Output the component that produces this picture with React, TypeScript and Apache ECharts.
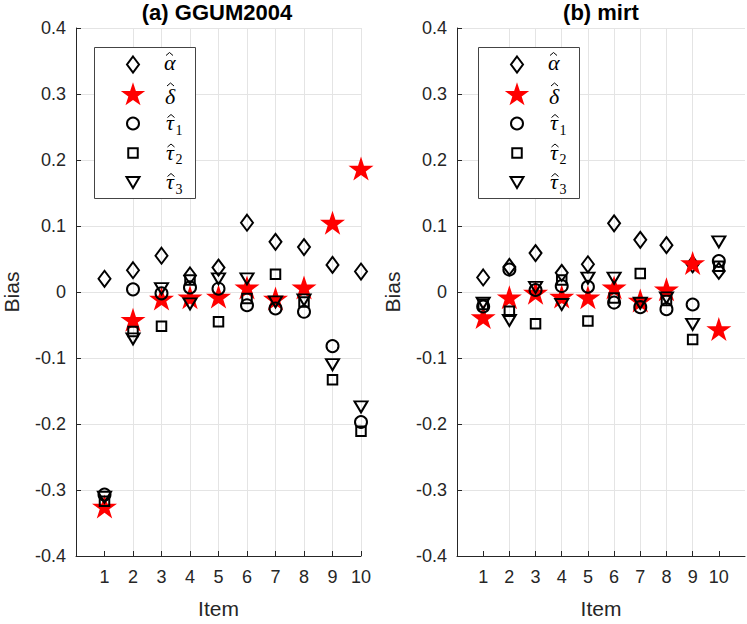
import React, { useEffect, useRef } from 'react';
import * as echarts from 'echarts';

// ---------------- data ----------------
const items = [1, 2, 3, 4, 5, 6, 7, 8, 9, 10];
const xTickValues = [1, 2, 3, 4, 5, 6, 7, 8, 9, 10];
const yTickValues = [-0.4, -0.3, -0.2, -0.1, 0, 0.1, 0.2, 0.3, 0.4];

const panelTitles = ['(a) GGUM2004', '(b) mirt'];
const seriesNames = ['alpha', 'delta', 'tau1', 'tau2', 'tau3'];

// (a) GGUM2004
const ggumAlpha = [0.020, 0.033, 0.055, 0.025, 0.037, 0.105, 0.076, 0.068, 0.041, 0.031];
const ggumDelta = [-0.325, -0.042, -0.010, -0.008, -0.007, 0.007, -0.010, 0.007, 0.105, 0.187];
const ggumTau1 = [-0.307, 0.004, -0.002, 0.007, 0.005, -0.020, -0.025, -0.030, -0.082, -0.197];
const ggumTau2 = [-0.317, -0.060, -0.052, 0.018, -0.045, -0.010, 0.027, -0.015, -0.133, -0.211];
const ggumTau3 = [-0.311, -0.071, 0.005, -0.018, 0.020, 0.020, -0.015, -0.012, -0.110, -0.174];

// (b) mirt
const mirtAlpha = [0.022, 0.038, 0.059, 0.029, 0.042, 0.104, 0.079, 0.071, 0.042, 0.032];
const mirtDelta = [-0.038, -0.008, -0.001, -0.007, -0.008, 0.007, -0.013, 0.004, 0.044, -0.056];
const mirtTau1 = [-0.022, 0.034, 0.003, 0.009, 0.008, -0.016, -0.023, -0.026, -0.019, 0.047];
const mirtTau2 = [-0.019, -0.029, -0.048, 0.018, -0.044, -0.009, 0.028, -0.013, -0.072, 0.039];
const mirtTau3 = [-0.017, -0.043, 0.007, -0.019, 0.021, 0.021, -0.017, -0.009, -0.049, 0.076];

// ---------------- style ----------------
const FONT = 'Liberation Sans, Arial, Helvetica, sans-serif';
const MATH_FONT = 'Liberation Serif, Times New Roman, serif';
const AXIS_COLOR = '#262626';
const GRID_COLOR = '#e4e4e4';
const STAR_RED = '#ff0000';
const MARKER_LW = 2;

const GRID_TOP = 28;
const GRID_H = 534;
const GRID_W = 288;
const GRID_LEFTS = [73, 457];
const X_MAX = [10, 11];

function starPoints(cx: number, cy: number, R: number): number[][] {
  const pts: number[][] = [];
  for (let i = 0; i < 10; i++) {
    const r = i % 2 === 0 ? R : R * 0.382;
    const a = -Math.PI / 2 + (i * Math.PI) / 5;
    pts.push([cx + r * Math.cos(a), cy + r * Math.sin(a)]);
  }
  return pts;
}

const starSymbol =
  'path://M' +
  starPoints(0, 0, 100)
    .map((p) => p[0].toFixed(2) + ' ' + p[1].toFixed(2))
    .join(' L') +
  ' Z';

const markerDefs: Record<string, any> = {
  alpha: { symbol: 'diamond', symbolSize: [12, 16], hollow: true },
  delta: { symbol: starSymbol, symbolSize: [25, 24], hollow: false },
  tau1: { symbol: 'circle', symbolSize: 12, hollow: true },
  tau2: { symbol: 'rect', symbolSize: 9.5, hollow: true },
  tau3: { symbol: 'triangle', symbolSize: [13, 11], hollow: true, rotate: 180 },
};

function makeSeries(name: string, values: number[], idx: number) {
  const def = markerDefs[name];
  return {
    type: 'scatter',
    name: name + idx,
    xAxisIndex: idx,
    yAxisIndex: idx,
    symbol: def.symbol,
    symbolSize: def.symbolSize,
    symbolRotate: def.rotate || 0,
    symbolKeepAspect: false,
    silent: true,
    itemStyle: def.hollow
      ? { color: 'rgba(0,0,0,0)', borderColor: '#000', borderWidth: MARKER_LW, opacity: 1 }
      : { color: STAR_RED, borderColor: STAR_RED, borderWidth: 0, opacity: 1 },
    emphasis: { disabled: true },
    data: items.map((x, i) => [x, values[i]]),
  };
}

function legendGraphics(x0: number): any[] {
  const y0 = 47;
  const w = 101;
  const h = 151;
  const els: any[] = [];
  els.push({
    type: 'rect',
    shape: { x: x0 + 0.5, y: y0 + 0.5, width: w, height: h },
    style: { fill: '#fff', stroke: '#444', lineWidth: 1 },
    z: 100,
  });
  const mx = x0 + 39;
  const tx = x0 + 70;
  const rows = [64.5, 94, 123.5, 153, 182.5];
  const stroke = { fill: 'none', stroke: '#000', lineWidth: MARKER_LW };
  let my = rows[0];
  els.push({ type: 'polygon', shape: { points: [[mx, my - 8], [mx + 6, my], [mx, my + 8], [mx - 6, my]] }, style: stroke, z: 101 });
  my = rows[1];
  els.push({ type: 'polygon', shape: { points: starPoints(mx, my + 1, 12.8) }, style: { fill: STAR_RED, stroke: 'none' }, z: 101 });
  my = rows[2];
  els.push({ type: 'circle', shape: { cx: mx, cy: my, r: 6 }, style: stroke, z: 101 });
  my = rows[3];
  els.push({ type: 'rect', shape: { x: mx - 4.75, y: my - 4.75, width: 9.5, height: 9.5 }, style: stroke, z: 101 });
  my = rows[4];
  els.push({ type: 'polygon', shape: { points: [[mx - 6.5, my - 5.5], [mx + 6.5, my - 5.5], [mx, my + 5.5]] }, style: stroke, z: 101 });

  const labels = [
    { ch: '\u03B1', sub: '', base: 6, hatTop: -12, dx: 0, hatDx: 5.5 },
    { ch: '\u03B4', sub: '', base: 10, hatTop: -11, dx: 1, hatDx: 5.5 },
    { ch: '\u03C4', sub: '1', base: 7, hatTop: -9, dx: 2, hatDx: 5 },
    { ch: '\u03C4', sub: '2', base: 7, hatTop: -9, dx: 2, hatDx: 5 },
    { ch: '\u03C4', sub: '3', base: 7, hatTop: -9, dx: 2, hatDx: 5 },
  ];
  const fs = 22;
  labels.forEach((l, i) => {
    const ry = rows[i];
    els.push({
      type: 'text',
      z: 101,
      style: {
        text: l.ch,
        x: tx + l.dx,
        y: ry + l.base - 0.35 * fs,
        font: 'italic ' + fs + 'px ' + MATH_FONT,
        fill: '#000',
        textAlign: 'left',
        textVerticalAlign: 'middle',
      },
    });
    const hx = tx + l.dx + l.hatDx;
    const ht = ry + l.hatTop;
    els.push({
      type: 'polyline',
      z: 101,
      shape: { points: [[hx - 3.5, ht + 3], [hx, ht], [hx + 3.5, ht + 3]] },
      style: { stroke: '#000', lineWidth: 1, fill: 'none' },
    });
    if (l.sub) {
      els.push({
        type: 'text',
        z: 101,
        style: {
          text: l.sub,
          x: tx + l.dx + 9.5,
          y: ry + 11.5 - 0.35 * 14,
          font: '14px ' + MATH_FONT,
          fill: '#000',
          textAlign: 'left',
          textVerticalAlign: 'middle',
        },
      });
    }
  });
  return els;
}

function buildOption() {
  const grids = GRID_LEFTS.map((left) => ({ left, top: GRID_TOP, width: GRID_W, height: GRID_H, containLabel: false }));
  const xAxes = [0, 1].map((g) => ({
    type: 'value',
    gridIndex: g,
    min: 0,
    max: X_MAX[g],
    interval: 1,
    name: 'Item',
    nameLocation: 'middle',
    nameGap: 42,
    nameTextStyle: { fontFamily: FONT, fontSize: 21, color: AXIS_COLOR },
    axisLine: { show: true, onZero: false, lineStyle: { color: AXIS_COLOR, width: 1 } },
    axisTick: { show: true, inside: true, length: 5, lineStyle: { color: AXIS_COLOR }, customValues: xTickValues },
    axisLabel: {
      show: true,
      margin: 12,
      fontFamily: FONT,
      fontSize: 18,
      color: AXIS_COLOR,
      customValues: xTickValues,
      formatter: (v: number) => (v >= 1 && v <= 10 ? String(v) : ''),
    },
    splitLine: { show: true, showMinLine: false, showMaxLine: g === 0, lineStyle: { color: GRID_COLOR, width: 1 } },
  }));
  const yAxes = [0, 1].map((g) => ({
    type: 'value',
    gridIndex: g,
    min: -0.4,
    max: 0.4,
    interval: 0.1,
    name: 'Bias',
    nameLocation: 'middle',
    nameGap: 54,
    nameTextStyle: { fontFamily: FONT, fontSize: 21, color: AXIS_COLOR },
    axisLine: { show: true, onZero: false, lineStyle: { color: AXIS_COLOR, width: 1 } },
    axisTick: { show: true, inside: true, length: 5, lineStyle: { color: AXIS_COLOR } },
    axisLabel: {
      show: true,
      margin: 10,
      fontFamily: FONT,
      fontSize: 18,
      color: AXIS_COLOR,
      formatter: (v: number) => {
        const r = Math.round(v * 10) / 10;
        return r === 0 ? '0' : r.toFixed(1);
      },
    },
    splitLine: { show: true, showMinLine: false, showMaxLine: true, lineStyle: { color: GRID_COLOR, width: 1 } },
  }));

  const panels = [
    [ggumAlpha, ggumDelta, ggumTau1, ggumTau2, ggumTau3],
    [mirtAlpha, mirtDelta, mirtTau1, mirtTau2, mirtTau3],
  ];
  const series: any[] = [];
  panels.forEach((vals, idx) => {
    seriesNames.forEach((n, k) => series.push(makeSeries(n, vals[k], idx)));
  });

  const graphic: any[] = [];
  panelTitles.forEach((t, g) => {
    graphic.push({
      type: 'text',
      style: {
        text: t,
        x: GRID_LEFTS[g] + GRID_W / 2,
        y: 12,
        font: 'bold 22px ' + FONT,
        fill: '#000',
        textAlign: 'center',
        textVerticalAlign: 'middle',
      },
    });
  });
  GRID_LEFTS.forEach((l) => legendGraphics(l + 21).forEach((e) => graphic.push(e)));

  return {
    animation: false,
    backgroundColor: '#fff',
    grid: grids,
    xAxis: xAxes,
    yAxis: yAxes,
    series,
    graphic,
  };
}

export default function App() {
  const ref = useRef<HTMLDivElement>(null);
  useEffect(() => {
    if (!ref.current) return;
    const chart = echarts.init(ref.current, undefined, { renderer: 'svg' });
    chart.setOption(buildOption() as any);
    return () => chart.dispose();
  }, []);
  return (
    <div
      ref={ref}
      style={{ position: 'absolute', left: 0, top: 0, width: 747, height: 624, background: '#fff' }}
    />
  );
}
